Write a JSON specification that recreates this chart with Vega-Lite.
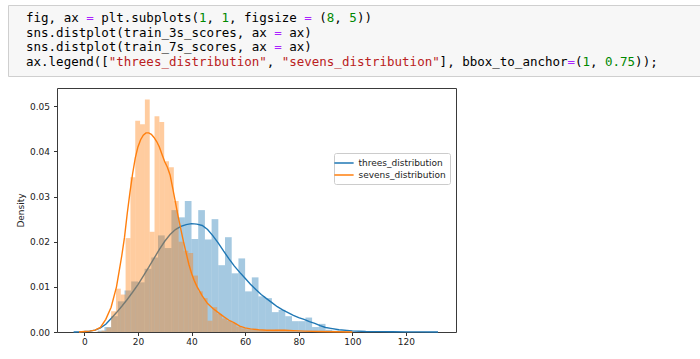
{
  "$schema": "https://vega.github.io/schema/vega-lite/v6.json",
  "padding": {"left": 7, "top": 4, "right": 0, "bottom": 0},
  "background": "white",
  "resolve": {"scale": {"color": "independent"}, "legend": {"color": "independent"}},
  "config": {
    "font": "DejaVu Sans",
    "axis": {"grid": false, "domain": false, "labelFont": "DejaVu Sans", "labelFontSize": 9, "labelColor": "#222222", "tickColor": "#333333", "tickSize": 3.5, "titleFont": "DejaVu Sans", "titleFontSize": 9, "titleFontWeight": "normal", "titleColor": "#222222"},
    "legend": {"labelFont": "DejaVu Sans", "labelFontSize": 9, "labelColor": "#222222"}
  },
  "datasets": {
    "code": [
      {"line": 0, "col": 0, "text": "fig, ax", "kind": "plain"},
      {"line": 0, "col": 8, "text": "=", "kind": "op"},
      {"line": 0, "col": 10, "text": "plt.subplots(", "kind": "plain"},
      {"line": 0, "col": 23, "text": "1", "kind": "num"},
      {"line": 0, "col": 24, "text": ",", "kind": "plain"},
      {"line": 0, "col": 26, "text": "1", "kind": "num"},
      {"line": 0, "col": 27, "text": ", figsize", "kind": "plain"},
      {"line": 0, "col": 37, "text": "=", "kind": "op"},
      {"line": 0, "col": 39, "text": "(", "kind": "plain"},
      {"line": 0, "col": 40, "text": "8", "kind": "num"},
      {"line": 0, "col": 41, "text": ",", "kind": "plain"},
      {"line": 0, "col": 43, "text": "5", "kind": "num"},
      {"line": 0, "col": 44, "text": "))", "kind": "plain"},
      {"line": 1, "col": 0, "text": "sns.distplot(train_3s_scores, ax", "kind": "plain"},
      {"line": 1, "col": 33, "text": "=", "kind": "op"},
      {"line": 1, "col": 35, "text": "ax)", "kind": "plain"},
      {"line": 2, "col": 0, "text": "sns.distplot(train_7s_scores, ax", "kind": "plain"},
      {"line": 2, "col": 33, "text": "=", "kind": "op"},
      {"line": 2, "col": 35, "text": "ax)", "kind": "plain"},
      {"line": 3, "col": 0, "text": "ax.legend([", "kind": "plain"},
      {"line": 3, "col": 11, "text": "\"threes_distribution\"", "kind": "str"},
      {"line": 3, "col": 32, "text": ",", "kind": "plain"},
      {"line": 3, "col": 34, "text": "\"sevens_distribution\"", "kind": "str"},
      {"line": 3, "col": 55, "text": "], bbox_to_anchor", "kind": "plain"},
      {"line": 3, "col": 72, "text": "=", "kind": "op"},
      {"line": 3, "col": 73, "text": "(", "kind": "plain"},
      {"line": 3, "col": 74, "text": "1", "kind": "num"},
      {"line": 3, "col": 75, "text": ",", "kind": "plain"},
      {"line": 3, "col": 77, "text": "0.75", "kind": "num"},
      {"line": 3, "col": 81, "text": "));", "kind": "plain"}
    ],
    "blueBars": [
      {"x0": 5, "x1": 7.5, "d": 0.0003},
      {"x0": 7.5, "x1": 10, "d": 0.0011},
      {"x0": 10, "x1": 12.5, "d": 0.0035},
      {"x0": 12.5, "x1": 15, "d": 0.0068},
      {"x0": 15, "x1": 17.5, "d": 0.0092},
      {"x0": 17.5, "x1": 20, "d": 0.0112},
      {"x0": 20, "x1": 22.5, "d": 0.011},
      {"x0": 22.5, "x1": 25, "d": 0.014},
      {"x0": 25, "x1": 27.5, "d": 0.0165},
      {"x0": 27.5, "x1": 30, "d": 0.0214},
      {"x0": 30, "x1": 32.5, "d": 0.0186},
      {"x0": 32.5, "x1": 35, "d": 0.027},
      {"x0": 35, "x1": 37.5, "d": 0.0254},
      {"x0": 37.5, "x1": 40, "d": 0.029},
      {"x0": 40, "x1": 42.5, "d": 0.0206},
      {"x0": 42.5, "x1": 45, "d": 0.027},
      {"x0": 45, "x1": 47.5, "d": 0.0205},
      {"x0": 47.5, "x1": 50, "d": 0.025},
      {"x0": 50, "x1": 52.5, "d": 0.0148},
      {"x0": 52.5, "x1": 55, "d": 0.021},
      {"x0": 55, "x1": 57.5, "d": 0.013},
      {"x0": 57.5, "x1": 60, "d": 0.0163},
      {"x0": 60, "x1": 62.5, "d": 0.009},
      {"x0": 62.5, "x1": 65, "d": 0.0121},
      {"x0": 65, "x1": 67.5, "d": 0.0079},
      {"x0": 67.5, "x1": 70, "d": 0.0075},
      {"x0": 70, "x1": 72.5, "d": 0.0044},
      {"x0": 72.5, "x1": 75, "d": 0.0049},
      {"x0": 75, "x1": 77.5, "d": 0.0035},
      {"x0": 77.5, "x1": 80, "d": 0.0024},
      {"x0": 80, "x1": 82.5, "d": 0.0024},
      {"x0": 82.5, "x1": 85, "d": 0.0032},
      {"x0": 85, "x1": 87.5, "d": 0.0011},
      {"x0": 87.5, "x1": 90, "d": 0.0018},
      {"x0": 90, "x1": 92.5, "d": 0.0005},
      {"x0": 92.5, "x1": 95, "d": 0.0003},
      {"x0": 95, "x1": 97.5, "d": 0.0002},
      {"x0": 97.5, "x1": 100, "d": 0.0001},
      {"x0": 100, "x1": 102.5, "d": 0.0001}
    ],
    "orangeBars": [
      {"x0": 4.6, "x1": 6.4, "d": 0.0001},
      {"x0": 6.4, "x1": 8.2, "d": 0.0003},
      {"x0": 8.2, "x1": 10.0, "d": 0.001},
      {"x0": 10.0, "x1": 11.8, "d": 0.0046},
      {"x0": 11.8, "x1": 13.6, "d": 0.0096},
      {"x0": 13.6, "x1": 15.4, "d": 0.0083},
      {"x0": 15.4, "x1": 17.2, "d": 0.0208},
      {"x0": 17.2, "x1": 19.0, "d": 0.0343},
      {"x0": 19.0, "x1": 20.8, "d": 0.0468},
      {"x0": 20.8, "x1": 22.6, "d": 0.046},
      {"x0": 22.6, "x1": 24.4, "d": 0.0515},
      {"x0": 24.4, "x1": 26.2, "d": 0.0222},
      {"x0": 26.2, "x1": 28.0, "d": 0.0478},
      {"x0": 28.0, "x1": 29.8, "d": 0.0465},
      {"x0": 29.8, "x1": 31.6, "d": 0.0378},
      {"x0": 31.6, "x1": 33.4, "d": 0.0365},
      {"x0": 33.4, "x1": 35.2, "d": 0.029},
      {"x0": 35.2, "x1": 37.0, "d": 0.02},
      {"x0": 37.0, "x1": 38.8, "d": 0.018},
      {"x0": 38.8, "x1": 40.6, "d": 0.0175},
      {"x0": 40.6, "x1": 42.4, "d": 0.0125},
      {"x0": 42.4, "x1": 44.2, "d": 0.009},
      {"x0": 44.2, "x1": 46.0, "d": 0.0075},
      {"x0": 46.0, "x1": 47.8, "d": 0.0025},
      {"x0": 47.8, "x1": 49.6, "d": 0.0055},
      {"x0": 49.6, "x1": 51.4, "d": 0.004},
      {"x0": 51.4, "x1": 53.2, "d": 0.003},
      {"x0": 53.2, "x1": 55.0, "d": 0.0025},
      {"x0": 55.0, "x1": 56.8, "d": 0.002},
      {"x0": 56.8, "x1": 58.6, "d": 0.0012},
      {"x0": 58.6, "x1": 60.4, "d": 0.0008},
      {"x0": 60.4, "x1": 62.2, "d": 0.0006},
      {"x0": 62.2, "x1": 64.0, "d": 0.0005},
      {"x0": 64.0, "x1": 65.8, "d": 0.0004},
      {"x0": 65.8, "x1": 67.6, "d": 0.0003},
      {"x0": 67.6, "x1": 69.4, "d": 0.0003},
      {"x0": 69.4, "x1": 71.2, "d": 0.0004},
      {"x0": 71.2, "x1": 73.0, "d": 0.0005},
      {"x0": 73.0, "x1": 74.8, "d": 0.0005},
      {"x0": 74.8, "x1": 76.6, "d": 0.0004},
      {"x0": 76.6, "x1": 78.4, "d": 0.0002},
      {"x0": 78.4, "x1": 80.2, "d": 0.0001}
    ],
    "kdeBlue": [
      {"series": "threes_distribution", "x": -4, "d": 0},
      {"series": "threes_distribution", "x": -2, "d": 0.00003},
      {"series": "threes_distribution", "x": 0, "d": 0.0001},
      {"series": "threes_distribution", "x": 2, "d": 0.0002},
      {"series": "threes_distribution", "x": 4, "d": 0.0004},
      {"series": "threes_distribution", "x": 6, "d": 0.0009},
      {"series": "threes_distribution", "x": 8, "d": 0.0017},
      {"series": "threes_distribution", "x": 10, "d": 0.003},
      {"series": "threes_distribution", "x": 12, "d": 0.0043},
      {"series": "threes_distribution", "x": 14, "d": 0.0057},
      {"series": "threes_distribution", "x": 16, "d": 0.0072},
      {"series": "threes_distribution", "x": 18, "d": 0.0088},
      {"series": "threes_distribution", "x": 20, "d": 0.0105},
      {"series": "threes_distribution", "x": 22, "d": 0.0124},
      {"series": "threes_distribution", "x": 24, "d": 0.0143},
      {"series": "threes_distribution", "x": 26, "d": 0.0163},
      {"series": "threes_distribution", "x": 28, "d": 0.0183},
      {"series": "threes_distribution", "x": 30, "d": 0.0201},
      {"series": "threes_distribution", "x": 32, "d": 0.0216},
      {"series": "threes_distribution", "x": 34, "d": 0.0227},
      {"series": "threes_distribution", "x": 36, "d": 0.0234},
      {"series": "threes_distribution", "x": 38, "d": 0.0238},
      {"series": "threes_distribution", "x": 40, "d": 0.024},
      {"series": "threes_distribution", "x": 42, "d": 0.0239},
      {"series": "threes_distribution", "x": 44, "d": 0.0236},
      {"series": "threes_distribution", "x": 46, "d": 0.0227},
      {"series": "threes_distribution", "x": 48, "d": 0.0213},
      {"series": "threes_distribution", "x": 50, "d": 0.0197},
      {"series": "threes_distribution", "x": 52, "d": 0.0179},
      {"series": "threes_distribution", "x": 54, "d": 0.0162},
      {"series": "threes_distribution", "x": 56, "d": 0.0146},
      {"series": "threes_distribution", "x": 58, "d": 0.0132},
      {"series": "threes_distribution", "x": 60, "d": 0.0119},
      {"series": "threes_distribution", "x": 62, "d": 0.0106},
      {"series": "threes_distribution", "x": 64, "d": 0.0094},
      {"series": "threes_distribution", "x": 66, "d": 0.0083},
      {"series": "threes_distribution", "x": 68, "d": 0.0074},
      {"series": "threes_distribution", "x": 70, "d": 0.0065},
      {"series": "threes_distribution", "x": 72, "d": 0.0056},
      {"series": "threes_distribution", "x": 74, "d": 0.0049},
      {"series": "threes_distribution", "x": 76, "d": 0.0043},
      {"series": "threes_distribution", "x": 78, "d": 0.0037},
      {"series": "threes_distribution", "x": 80, "d": 0.0032},
      {"series": "threes_distribution", "x": 82, "d": 0.0028},
      {"series": "threes_distribution", "x": 84, "d": 0.0023},
      {"series": "threes_distribution", "x": 86, "d": 0.0019},
      {"series": "threes_distribution", "x": 88, "d": 0.0014},
      {"series": "threes_distribution", "x": 90, "d": 0.001},
      {"series": "threes_distribution", "x": 92, "d": 0.0008},
      {"series": "threes_distribution", "x": 95, "d": 0.0005},
      {"series": "threes_distribution", "x": 100, "d": 0.00025},
      {"series": "threes_distribution", "x": 105, "d": 0.00012},
      {"series": "threes_distribution", "x": 110, "d": 0.00008},
      {"series": "threes_distribution", "x": 115, "d": 0.00005},
      {"series": "threes_distribution", "x": 120, "d": 0.00003},
      {"series": "threes_distribution", "x": 125, "d": 0.00002},
      {"series": "threes_distribution", "x": 132, "d": 0}
    ],
    "kdeOrange": [
      {"series": "sevens_distribution", "x": -2, "d": 0},
      {"series": "sevens_distribution", "x": 0, "d": 0.0001},
      {"series": "sevens_distribution", "x": 2, "d": 0.0002},
      {"series": "sevens_distribution", "x": 4, "d": 0.0004},
      {"series": "sevens_distribution", "x": 6, "d": 0.001},
      {"series": "sevens_distribution", "x": 8, "d": 0.0028},
      {"series": "sevens_distribution", "x": 10, "d": 0.0055},
      {"series": "sevens_distribution", "x": 12, "d": 0.01},
      {"series": "sevens_distribution", "x": 13, "d": 0.0135},
      {"series": "sevens_distribution", "x": 14, "d": 0.017},
      {"series": "sevens_distribution", "x": 15, "d": 0.021},
      {"series": "sevens_distribution", "x": 16, "d": 0.0262},
      {"series": "sevens_distribution", "x": 17, "d": 0.0308},
      {"series": "sevens_distribution", "x": 18, "d": 0.035},
      {"series": "sevens_distribution", "x": 19, "d": 0.0385},
      {"series": "sevens_distribution", "x": 20, "d": 0.041},
      {"series": "sevens_distribution", "x": 21, "d": 0.0426},
      {"series": "sevens_distribution", "x": 22, "d": 0.0436},
      {"series": "sevens_distribution", "x": 23, "d": 0.0441},
      {"series": "sevens_distribution", "x": 24, "d": 0.0441},
      {"series": "sevens_distribution", "x": 25, "d": 0.0438},
      {"series": "sevens_distribution", "x": 26, "d": 0.0431},
      {"series": "sevens_distribution", "x": 27, "d": 0.0422},
      {"series": "sevens_distribution", "x": 28, "d": 0.041},
      {"series": "sevens_distribution", "x": 29, "d": 0.0393},
      {"series": "sevens_distribution", "x": 30, "d": 0.0377},
      {"series": "sevens_distribution", "x": 31, "d": 0.0365},
      {"series": "sevens_distribution", "x": 32, "d": 0.0348},
      {"series": "sevens_distribution", "x": 33, "d": 0.0318},
      {"series": "sevens_distribution", "x": 34, "d": 0.0287},
      {"series": "sevens_distribution", "x": 35, "d": 0.0256},
      {"series": "sevens_distribution", "x": 36, "d": 0.0228},
      {"series": "sevens_distribution", "x": 37, "d": 0.02},
      {"series": "sevens_distribution", "x": 38, "d": 0.0175},
      {"series": "sevens_distribution", "x": 39, "d": 0.015},
      {"series": "sevens_distribution", "x": 40, "d": 0.013},
      {"series": "sevens_distribution", "x": 41, "d": 0.0114},
      {"series": "sevens_distribution", "x": 42, "d": 0.0101},
      {"series": "sevens_distribution", "x": 44, "d": 0.008},
      {"series": "sevens_distribution", "x": 46, "d": 0.0063},
      {"series": "sevens_distribution", "x": 48, "d": 0.0052},
      {"series": "sevens_distribution", "x": 50, "d": 0.0043},
      {"series": "sevens_distribution", "x": 52, "d": 0.0034},
      {"series": "sevens_distribution", "x": 54, "d": 0.0026},
      {"series": "sevens_distribution", "x": 56, "d": 0.002},
      {"series": "sevens_distribution", "x": 58, "d": 0.0013},
      {"series": "sevens_distribution", "x": 60, "d": 0.0009},
      {"series": "sevens_distribution", "x": 62, "d": 0.0007},
      {"series": "sevens_distribution", "x": 65, "d": 0.0005},
      {"series": "sevens_distribution", "x": 68, "d": 0.0004},
      {"series": "sevens_distribution", "x": 72, "d": 0.0004},
      {"series": "sevens_distribution", "x": 75, "d": 0.0004},
      {"series": "sevens_distribution", "x": 78, "d": 0.0003},
      {"series": "sevens_distribution", "x": 82, "d": 0.0002},
      {"series": "sevens_distribution", "x": 88, "d": 0.0001},
      {"series": "sevens_distribution", "x": 94, "d": 0.00005},
      {"series": "sevens_distribution", "x": 100, "d": 0}
    ]
  },
  "vconcat": [
    {
      "width": 693,
      "height": 71,
      "view": {"fill": "#f7f7f7", "stroke": "#cfcfcf", "strokeWidth": 1},
      "data": {"name": "code"},
      "mark": {"type": "text", "font": "DejaVu Sans Mono", "fontSize": 12.5, "align": "left", "baseline": "middle"},
      "encoding": {
        "x": {"field": "col", "type": "quantitative", "scale": {"domain": [-2.394, 89.76], "nice": false, "zero": false}, "axis": null},
        "y": {"field": "line", "type": "quantitative", "scale": {"domain": [-0.858, 3.939], "nice": false, "zero": false, "reverse": true}, "axis": null},
        "text": {"field": "text"},
        "color": {"field": "kind", "type": "nominal", "scale": {"domain": ["plain", "op", "num", "str"], "range": ["#000000", "#aa22ff", "#008800", "#ba2121"]}, "legend": null}
      }
    },
    {
      "spacing": 0,
      "hconcat": [
        {
          "width": 7,
          "height": 10,
          "view": {"stroke": null},
          "data": {"values": []},
          "mark": "point"
        },
        {
          "width": 399,
          "height": 244,
          "view": {"stroke": "#3a3a3a", "strokeWidth": 1},
          "encoding": {
            "x": {"type": "quantitative", "scale": {"domain": [-10.2, 138.7], "nice": false, "zero": false}},
            "y": {"type": "quantitative", "scale": {"domain": [0, 0.05405], "nice": false, "zero": false}}
          },
          "layer": [
            {
              "data": {"name": "blueBars"},
              "mark": {"type": "rect", "color": "#1f77b4", "opacity": 0.4},
              "encoding": {
                "x": {"field": "x0", "type": "quantitative", "axis": {"values": [0, 20, 40, 60, 80, 100, 120], "title": null, "labelPadding": 2}},
                "x2": {"field": "x1"},
                "y": {"field": "d", "type": "quantitative", "axis": {"values": [0, 0.01, 0.02, 0.03, 0.04, 0.05], "format": ".2f", "title": "Density", "labelPadding": 4, "titlePadding": 4}},
                "y2": {"datum": 0}
              }
            },
            {
              "data": {"name": "kdeBlue"},
              "mark": {"type": "line", "strokeWidth": 1.4},
              "encoding": {
                "x": {"field": "x", "type": "quantitative"},
                "y": {"field": "d", "type": "quantitative"},
                "color": {"field": "series", "type": "nominal", "scale": {"domain": ["threes_distribution", "sevens_distribution"], "range": ["#1f77b4", "#ff7f0e"]},
                  "legend": {"title": null, "orient": "none", "legendX": 326, "legendY": 65, "symbolType": "M-1.75,0H1.75", "symbolSize": 121, "symbolStrokeWidth": 1.5, "symbolFillColor": "transparent", "labelOffset": 8, "rowPadding": 0, "padding": 3.5, "strokeColor": "#cccccc", "fillColor": "#ffffff", "cornerRadius": 2}}
              }
            },
            {
              "data": {"name": "orangeBars"},
              "mark": {"type": "rect", "color": "#ff7f0e", "opacity": 0.4},
              "encoding": {
                "x": {"field": "x0", "type": "quantitative"},
                "x2": {"field": "x1"},
                "y": {"field": "d", "type": "quantitative"},
                "y2": {"datum": 0}
              }
            },
            {
              "data": {"name": "kdeOrange"},
              "mark": {"type": "line", "strokeWidth": 1.4},
              "encoding": {
                "x": {"field": "x", "type": "quantitative"},
                "y": {"field": "d", "type": "quantitative"},
                "color": {"field": "series", "type": "nominal"}
              }
            }
          ]
        }
      ]
    }
  ],
  "spacing": 10
}
